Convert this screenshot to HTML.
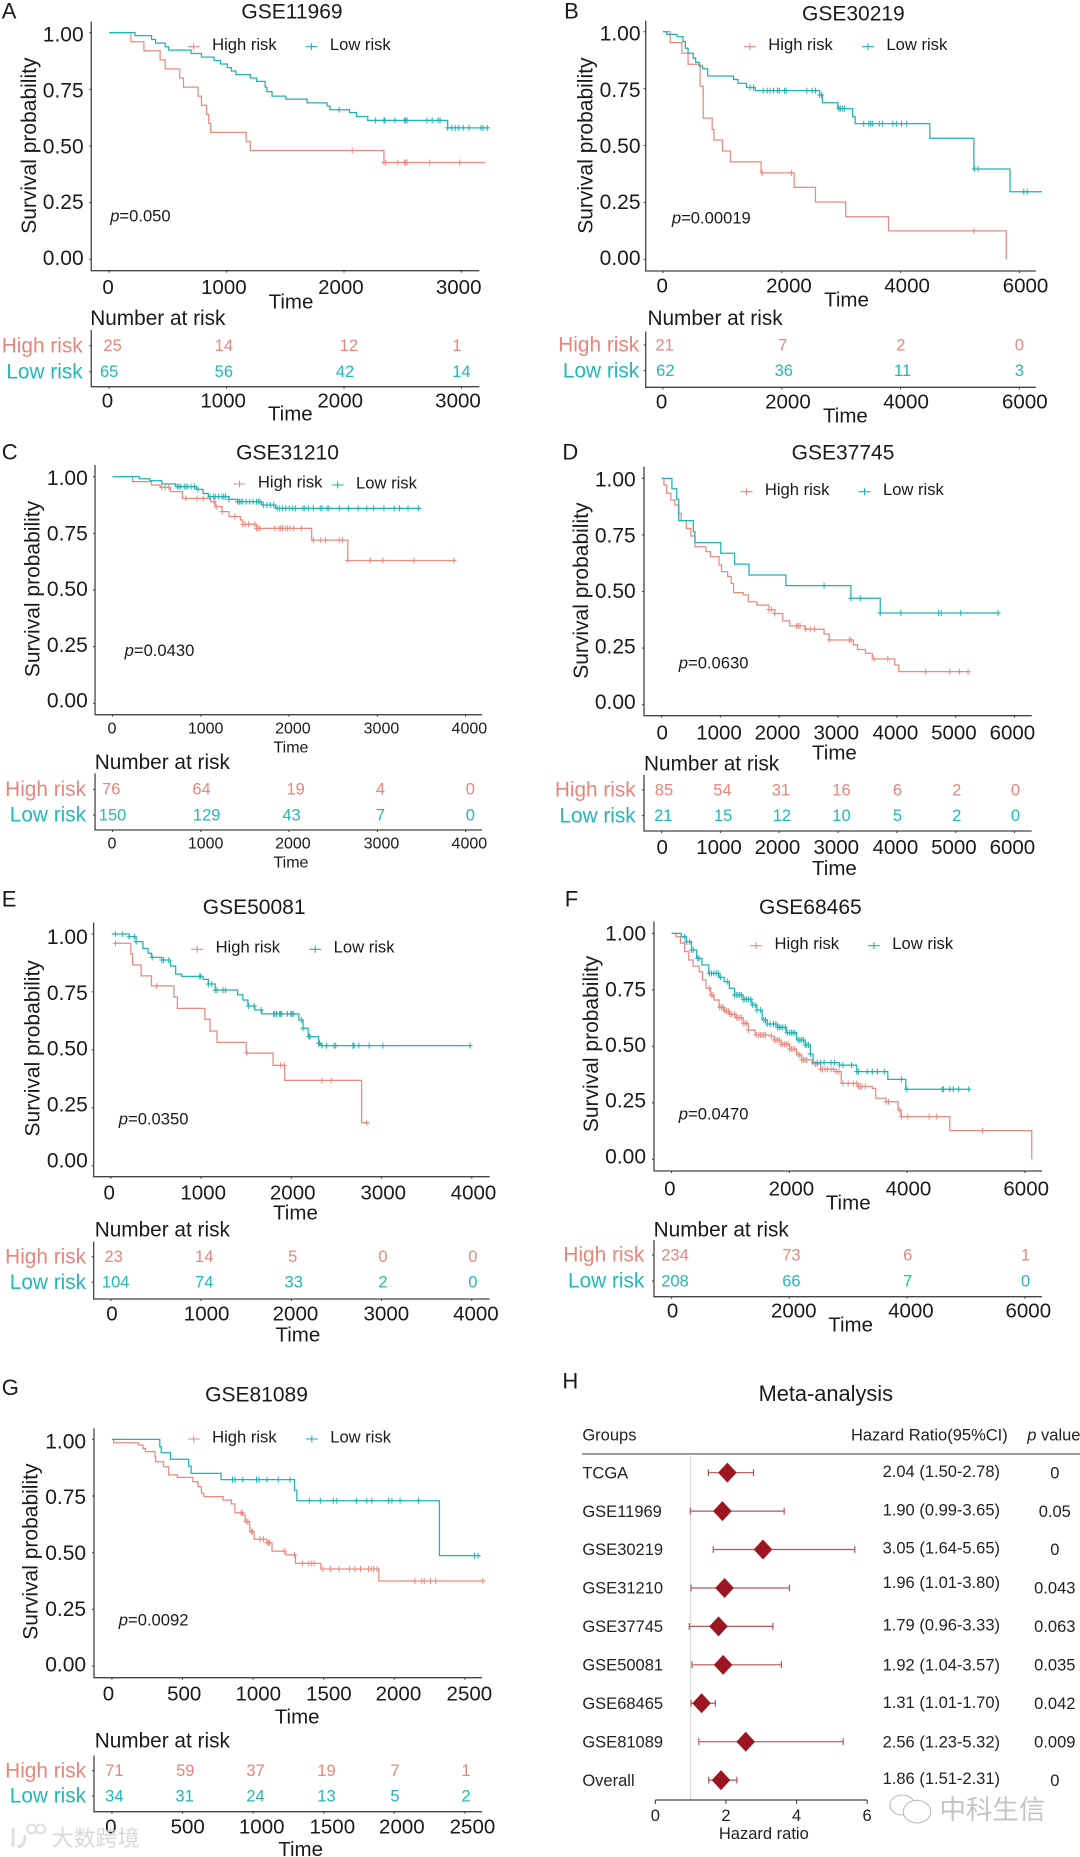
<!DOCTYPE html>
<html lang="en">
<head>
<meta charset="utf-8">
<title>Survival curves and meta-analysis</title>
<style>
html,body{margin:0;padding:0;background:#fff;}
#figure{display:block;width:1080px;height:1857px;font-family:"Liberation Sans","Noto Sans CJK SC",sans-serif;}
</style>
</head>
<body>
<svg id="figure" xmlns="http://www.w3.org/2000/svg" width="1080" height="1857" viewBox="0 0 1080 1857"></svg>
<script>
/* ---------- Panel A: GSE11969 ---------- */
const gse11969Ticks = [0,1000,2000,3000];
const gse11969HighTime = [0,185,296,434,478,601,633,757,786,830,848,865,1167,1202,2340,3200];
const gse11969HighSurv = [1,.96,.92,.88,.84,.80,.76,.72,.68,.64,.60,.56,.52,.48,.427,.427];
const gse11969HighCensor = [2070,2340,2355,2458,2516,2525,2537,2730,2985];
const gse11969LowTime = [0,220,361,396,478,507,698,786,894,947,1006,1041,1079,1202,1255,1328,1343,1387,1504,1686,1856,1880,2047,2106,2202,2883,3235];
const gse11969LowSurv = [1,.987,.97,.954,.938,.923,.908,.892,.877,.862,.846,.831,.815,.80,.785,.76,.74,.72,.707,.69,.677,.66,.647,.63,.613,.58,.58];
const gse11969LowCensor = [1959,2267,2340,2349,2434,2516,2525,2537,2707,2751,2801,2818,2883,2918,2947,2977,3015,3065,3167,3185,3220];
const gse11969RiskHigh = [25,14,12,1];
const gse11969RiskLow = [65,56,42,14];

/* ---------- Panel B: GSE30219 ---------- */
const gse30219Ticks = [0,2000,4000,6000];
const gse30219HighTime = [0,122,319,423,626,678,829,858,1003,1136,1652,2209,2568,3078,3797,5780];
const gse30219HighSurv = [1,.952,.905,.857,.76,.62,.571,.524,.476,.428,.38,.316,.252,.187,.125,0];
const gse30219HighCensor = [1670,2162,5235];
const gse30219LowTime = [0,64,238,336,377,423,510,551,609,667,754,1188,1264,1409,1554,2638,2684,2945,3194,3235,4493,5235,5843,6383];
const gse30219LowSurv = [1,.988,.978,.956,.927,.905,.883,.865,.85,.837,.805,.79,.773,.755,.741,.722,.688,.662,.627,.596,.532,.397,.297,.297];
const gse30219LowCensor = [1467,1525,1687,1757,1803,1861,1930,1959,2046,2075,2423,2510,2568,2638,2672,2962,2986,3020,3055,3380,3467,3496,3525,3641,3699,3872,3930,4017,4104,5246,5304,6075,6133];
const gse30219RiskHigh = [21,7,2,0];
const gse30219RiskLow = [62,36,11,3];

/* ---------- Panel C: GSE31210 ---------- */
const gse31210Ticks = [0,1000,2000,3000,4000];
const gse31210HighTime = [0,226,441,539,656,792,1112,1163,1241,1319,1448,1475,1631,2256,2666,3895];
const gse31210HighSurv = [1,.978,.963,.953,.934,.904,.89,.868,.846,.824,.809,.79,.772,.72,.63,.63];
const gse31210HighCensor = [558,597,636,831,957,1027,1151,1175,1241,1385,1475,1502,1541,1612,1631,1651,1670,1838,1885,1905,1924,1955,1982,2010,2049,2139,2275,2361,2412,2568,2607,2666,2920,3063,3415,3867];
const gse31210LowTime = [0,304,421,558,714,948,1026,1085,1319,1417,1690,1846,3493];
const gse31210LowSurv = [1,.991,.982,.968,.956,.944,.926,.912,.9,.89,.875,.86,.86];
const gse31210LowCensor = [734,753,773,812,831,851,890,929,968,1104,1143,1163,1202,1241,1260,1280,1319,1417,1436,1456,1475,1514,1553,1592,1631,1651,1670,1709,1748,1787,1826,1865,1893,1924,1963,2002,2041,2072,2158,2178,2217,2275,2353,2373,2431,2451,2568,2673,2782,2880,2958,3075,3192,3251,3348,3465];
const gse31210RiskHigh = [76,64,19,4,0];
const gse31210RiskLow = [150,129,43,7,0];

/* ---------- Panel D: GSE37745 ---------- */
const gse37745Ticks = [0,1000,2000,3000,4000,5000,6000];
const gse37745HighTime = [0,41,88,158,228,287,334,422,498,568,755,831,978,1019,1124,1183,1224,1388,1475,1622,1827,1926,2061,2178,2441,2763,2851,3261,3331,3466,3583,3964,4034,5240];
const gse37745HighSurv = [1,.97,.934,.904,.882,.845,.813,.779,.745,.698,.676,.654,.617,.588,.566,.536,.495,.485,.455,.44,.42,.403,.37,.348,.333,.312,.286,.264,.244,.227,.202,.175,.146,.146];
const gse37745HighCensor = [1827,1868,1926,2295,2324,2354,2453,2529,2600,2851,3191,3220,3612,3847,4491,4900,5064,5211];
const gse37745LowTime = [0,176,258,293,539,568,1007,1241,1487,2114,3220,3718,5750];
const gse37745LowSurv = [1,.954,.907,.813,.764,.716,.669,.621,.573,.526,.47,.405,.405];
const gse37745LowCensor = [2763,3220,3378,3718,4069,4707,4754,5088,5720];
const gse37745RiskHigh = [85,54,31,16,6,2,0];
const gse37745RiskLow = [21,15,12,10,5,2,0];

/* ---------- Panel E: GSE50081 ---------- */
const gse50081Ticks = [0,1000,2000,3000,4000];
const gse50081HighTime = [40,221,240,336,450,698,737,1042,1099,1176,1500,1798,1927,2779,2863];
const gse50081HighSurv = [.96,.914,.866,.819,.776,.728,.679,.632,.581,.532,.486,.433,.368,.186,.186];
const gse50081HighCensor = [50,508,1508,1882,1920,2340,2443,2836];
const gse50081LowTime = [10,202,279,355,412,450,565,660,718,786,1023,1080,1156,1405,1462,1519,1595,1672,2084,2130,2187,2302,2328,3992];
const gse50081LowSurv = [1,.988,.967,.938,.917,.899,.888,.862,.827,.817,.804,.784,.758,.738,.715,.689,.672,.655,.629,.593,.557,.528,.518,.518];
const gse50081LowCensor = [50,126,202,260,279,458,565,584,641,985,996,1080,1118,1156,1176,1244,1271,1527,1588,1664,1805,1817,1836,1870,1882,1893,1958,1996,2008,2027,2111,2130,2195,2206,2302,2313,2340,2389,2473,2492,2683,2695,2748,2863,3015,3981];
const gse50081RiskHigh = [23,14,5,0,0];
const gse50081RiskLow = [104,74,33,2,0];

/* ---------- Panel F: GSE68465 ---------- */
const gse68465Ticks = [0,2000,4000,6000];
const gse68465HighTime = [0,76,152,222,292,368,468,526,585,661,719,807,895,982,1099,1216,1304,1421,1655,1743,1860,2006,2123,2211,2386,2532,2795,2883,3175,3409,3468,3643,3848,3895,4725,6117];
const gse68465HighSurv = [1,.985,.956,.919,.882,.855,.83,.794,.757,.727,.705,.673,.656,.642,.627,.602,.572,.55,.546,.528,.509,.488,.462,.44,.422,.398,.388,.336,.322,.314,.27,.255,.218,.189,.127,0];
const gse68465HighCensor = [643,673,702,819,848,877,906,936,965,994,1023,1070,1099,1129,1158,1187,1216,1246,1275,1304,1439,1480,1509,1538,1567,1596,1696,1743,1772,1801,1830,1860,1889,1918,1947,1977,2006,2035,2064,2094,2152,2181,2211,2240,2269,2298,2444,2474,2532,2561,2608,2649,2708,2749,2795,2842,2912,3000,3088,3146,3175,3205,3234,3292,3643,3684,3877,3906,4012,4374,4503,5281];
const gse68465LowTime = [0,164,251,339,427,515,632,807,895,982,1070,1216,1363,1450,1538,1626,1801,1947,2123,2269,2357,2404,2854,3146,3673,3977,5076];
const gse68465LowSurv = [1,.985,.963,.926,.889,.86,.823,.805,.786,.757,.727,.708,.683,.661,.617,.599,.584,.56,.528,.506,.466,.428,.417,.388,.354,.31,.31];
const gse68465LowCensor = [222,251,310,339,368,444,468,643,678,719,760,795,830,953,1070,1099,1129,1158,1187,1216,1246,1275,1304,1345,1380,1421,1450,1509,1567,1596,1626,1673,1731,1772,1801,1830,1860,1889,1930,1965,2006,2035,2064,2094,2152,2181,2211,2240,2269,2298,2327,2357,2474,2532,2591,2708,2766,2854,2912,3058,3146,3175,3322,3409,3497,3614,3906,3994,4596,4620,4725,4784,4871,5047];
const gse68465RiskHigh = [234,73,6,1];
const gse68465RiskLow = [208,66,7,0];

/* ---------- Panel G: GSE81089 ---------- */
const gse81089Ticks = [0,500,1000,1500,2000,2500];
const gse81089HighTime = [0,12,188,220,237,305,310,366,402,463,573,610,634,651,788,846,871,927,944,976,1007,1098,1134,1232,1300,1480,1890,2641];
const gse81089HighSurv = [1,.985,.975,.96,.946,.924,.901,.879,.843,.832,.813,.791,.762,.747,.732,.715,.676,.666,.637,.593,.559,.544,.507,.49,.453,.428,.375,.375];
const gse81089HighCensor = [915,922,951,963,988,995,1049,1073,1098,1110,1117,1220,1293,1349,1395,1415,1432,1495,1549,1610,1683,1720,1761,1817,1837,1854,1878,2146,2195,2212,2256,2293,2627];
const gse81089LowTime = [0,339,349,415,544,561,773,1293,1310,2320,2610];
const gse81089LowSurv = [1,.968,.941,.912,.882,.85,.822,.776,.729,.487,.487];
const gse81089LowCensor = [854,871,927,1024,1041,1098,1178,1261,1398,1476,1568,1593,1732,1805,1841,1959,1983,2041,2171,2568,2593];
const gse81089RiskHigh = [71,59,37,19,7,1];
const gse81089RiskLow = [34,31,24,13,5,2];

/* ---------- Panel H: forest plot ---------- */
const forestGroups = ["TCGA","GSE11969","GSE30219","GSE31210","GSE37745","GSE50081","GSE68465","GSE81089","Overall"];
const forestHR = [2.04,1.90,3.05,1.96,1.79,1.92,1.31,2.56,1.86];
const forestLower = [1.50,0.99,1.64,1.01,0.96,1.04,1.01,1.23,1.51];
const forestUpper = [2.78,3.65,5.65,3.80,3.33,3.57,1.70,5.32,2.31];
const forestP = ["0","0.05","0","0.043","0.063","0.035","0.042","0.009","0"];
const forestTicks = [0,2,4,6];

const survivalTicks = [0,0.25,0.5,0.75,1];

/* ---------- Layout (measured units: 2.904 per px across, 3 per px down) ---------- */
const KX = 2.904, KY = 3;
const HIGH = "#E98A81", LOW = "#1FB3B3", HIGHTXT = "#E8857C", LOWTXT = "#22B8B8", INK = "#1a1a1a", AXIS = "#444";
const svg = document.getElementById('figure');
const NS = "http://www.w3.org/2000/svg";
const zx = z => z / KX;
const zy = z => z / KY;

function make(tag, attrs, parent){
  const el = document.createElementNS(NS, tag);
  for (const k in attrs) el.setAttribute(k, attrs[k]);
  parent.appendChild(el);
  return el;
}
function named(el, name, interactable){
  
  
  return el;
}
function label(parent, x, y, str, size, anchor, fill, name){
  const el = make('text', {x:x, y:y, 'font-size':size, 'text-anchor':anchor||'start', fill:fill||INK}, parent);
  el.textContent = str;
  return named(el, name);
}
function survivalAt(times, surv, t){
  let s = surv[0];
  for (let i = 0; i < times.length; i++) if (times[i] <= t) s = surv[i];
  return s;
}

function drawPanel(p){
  const g = named(make('g', {transform:'translate('+p.ox+','+p.oy+')'}, svg), 'panel-'+p.title.toLowerCase());
  const xScale = t => (p.x0 + t * p.xs) / KX;
  const yScale = v => (p.y0 - v * (p.y0 - p.y1)) / KY;
  const tickFs = p.tickFs || 20.5, timeFs = p.timeFs || 20.5;

  label(g, zx(p.letter[0]), zy(p.letter[1]), p.letter[2], 22, 'start', INK, 'panel-letter');
  label(g, zx(p.titleX), zy(p.titleY), p.title, 21, 'middle', INK, 'chart-title');

  /* main axes */
  named(make('path', {d:'M'+zx(p.ax)+' '+zy(p.top)+'V'+zy(p.bottom)+'H'+zx(p.right), fill:'none', stroke:AXIS, 'stroke-width':1.3}, g), 'survival-axes');
  survivalTicks.forEach(v => {
    named(make('line', {x1:zx(p.ax)-2, x2:zx(p.ax), y1:yScale(v), y2:yScale(v), stroke:AXIS, 'stroke-width':1.1}, g), 'y-tick');
    const by = p.yLab[0] + v * (p.yLab[1] - p.yLab[0]);
    label(g, zx(p.yLabR), zy(by), v.toFixed(2), 21, 'end', INK, 'y-tick-label');
  });
  p.ticks.forEach((t, i) => {
    named(make('line', {x1:xScale(t), x2:xScale(t), y1:zy(p.bottom), y2:zy(p.bottom)+2, stroke:AXIS, 'stroke-width':1.1}, g), 'x-tick');
    label(g, xScale(t)+zx(p.tickDx[i]), zy(p.tickY), String(t), tickFs, 'middle', INK, 'x-tick-label');
  });
  label(g, zx(p.timeX), zy(p.timeY), 'Time', timeFs, 'middle', INK, 'x-axis-title');

  /* y axis title */
  const yt = label(g, 0, 0, 'Survival probability', 21, 'middle', INK, 'y-axis-title');
  yt.setAttribute('transform', 'translate('+zx(p.yTitleX)+','+zy(p.yTitleY)+') rotate(-90)');

  /* series */
  [['high', p.highT, p.highS, p.highC, HIGH], ['low', p.lowT, p.lowS, p.lowC, LOW]].forEach(s => {
    let d = 'M' + xScale(s[1][0]).toFixed(2) + ' ' + yScale(s[2][0]).toFixed(2);
    for (let i = 1; i < s[1].length; i++) {
      d += 'H' + xScale(s[1][i]).toFixed(2) + 'V' + yScale(s[2][i]).toFixed(2);
    }
    named(make('path', {d:d, fill:'none', stroke:s[4], 'stroke-width':1.25}, g), s[0]+'-risk-curve');
    s[3].forEach(t => {
      const cx = xScale(t), cy = yScale(survivalAt(s[1], s[2], t));
      named(make('path', {d:'M'+(cx-2.6)+' '+cy+'H'+(cx+2.6)+'M'+cx+' '+(cy-3)+'V'+(cy+3), fill:'none', stroke:s[4], 'stroke-width':1}, g), s[0]+'-censor-mark');
    });
  });

  /* legend */
  [[p.leg[0], 'High risk', HIGH], [p.leg[3], 'Low risk', LOW]].forEach((e, i) => {
    const my = zy(p.leg[1] + (i ? p.leg[4] : 0));
    const m0 = zx(e[0]), m1 = zx(e[0]+35), mm = (m0+m1)/2;
    named(make('path', {d:'M'+m0+' '+my+'H'+m1+'M'+mm+' '+(my-3.4)+'V'+(my+3.4), fill:'none', stroke:e[2], 'stroke-width':1.1}, g), 'legend-key-'+(i?'low':'high'));
    label(g, zx(e[0]+71), my+3.4, e[1], 16.6, 'start', INK, 'legend-entry-'+(i?'low':'high'));
  });

  /* p value */
  const pt = make('text', {x:zx(p.pX), y:zy(p.pY), 'font-size':16.6, fill:INK}, g);
  named(pt, 'p-value-label');
  const pi = make('tspan', {'font-style':'italic'}, pt); pi.textContent = 'p';
  const pr = make('tspan', {}, pt); pr.textContent = '=' + p.pVal;

  /* risk table */
  label(g, zx(p.numX), zy(p.numY), 'Number at risk', 20.8, 'start', INK, 'risk-table-title');
  named(make('path', {d:'M'+zx(p.ax)+' '+zy(p.tTop)+'V'+zy(p.tBottom)+'H'+zx(p.right), fill:'none', stroke:AXIS, 'stroke-width':1.3}, g), 'risk-table-axes');
  [[p.rowH,'High risk',HIGHTXT,p.riskH,p.dxH,'high'],[p.rowL,'Low risk',LOWTXT,p.riskL,p.dxL,'low']].forEach(r => {
    named(make('line', {x1:zx(p.ax)-2, x2:zx(p.ax), y1:zy(r[0]), y2:zy(r[0]), stroke:AXIS, 'stroke-width':1.1}, g), 'risk-row-tick');
    label(g, zx(p.rowR), zy(r[0]+20), r[1], 20.8, 'end', r[2], 'risk-row-label-'+r[5]);
    r[3].forEach((n, i) => {
      label(g, xScale(p.ticks[i])+zx(r[4][i]), zy(r[0]+16), String(n), 16.5, 'middle', r[2], 'risk-count-'+r[5]);
    });
  });
  p.ticks.forEach((t, i) => {
    named(make('line', {x1:xScale(t), x2:xScale(t), y1:zy(p.tBottom), y2:zy(p.tBottom)+2, stroke:AXIS, 'stroke-width':1.1}, g), 'risk-x-tick');
    label(g, xScale(t)+zx(p.tDx[i]), zy(p.tTickY), String(t), tickFs, 'middle', INK, 'risk-x-tick-label');
  });
  label(g, zx(p.tTimeX), zy(p.tTimeY), 'Time', timeFs, 'middle', INK, 'risk-x-axis-title');
}

drawPanel({ox:0,oy:0,letter:[5,55,'A'],title:'GSE11969',titleX:848,titleY:55,ax:265,top:65,bottom:812,right:1392,x0:317,xs:.341,y1:98,y0:778,
  ticks:gse11969Ticks,tickDx:[-3,-8,-9,-8],tickY:882,timeX:845,timeY:925,yLab:[795,125],yLabR:243,yTitleX:104,yTitleY:437,
  leg:[545,140,0,887,0],pX:320,pY:665,pVal:'0.050',numX:262,numY:975,tTop:990,tBottom:1160,rowH:1037,rowL:1115,rowR:240,
  dxH:[10,-8,14,-13],dxL:[0,-8,3,0],tDx:[-5,-10,-11,-10],tTickY:1222,tTimeX:843,tTimeY:1262,
  highT:gse11969HighTime,highS:gse11969HighSurv,highC:gse11969HighCensor,lowT:gse11969LowTime,lowS:gse11969LowSurv,lowC:gse11969LowCensor,riskH:gse11969RiskHigh,riskL:gse11969RiskLow});

drawPanel({ox:540,oy:0,letter:[70,55,'B'],title:'GSE30219',titleX:910,titleY:62,ax:307,top:62,bottom:813,right:1440,x0:357,xs:.1725,y1:95,y0:778,
  ticks:gse30219Ticks,tickDx:[-2,21,19,18],tickY:878,timeX:890,timeY:920,yLab:[795,122],yLabR:292,yTitleX:152,yTitleY:437,
  leg:[592,140,0,935,0],pX:383,pY:670,pVal:'0.00019',numX:312,numY:975,tTop:995,tBottom:1162,rowH:1035,rowL:1112,rowR:288,
  dxH:[5,3,1,0],dxL:[7,6,6,0],tDx:[-4,18,16,16],tTickY:1225,tTimeX:887,tTimeY:1268,
  highT:gse30219HighTime,highS:gse30219HighSurv,highC:gse30219HighCensor,lowT:gse30219LowTime,lowS:gse30219LowSurv,lowC:gse30219LowCensor,riskH:gse30219RiskHigh,riskL:gse30219RiskLow});

drawPanel({ox:0,oy:430,letter:[5,88,'C'],title:'GSE31210',titleX:835,titleY:88,ax:276,top:105,bottom:854,right:1400,x0:327,xs:.25625,y1:140,y0:820,
  ticks:gse31210Ticks,tickDx:[-2,14,11,12,11],tickY:910,timeX:845,timeY:967,tickFs:16,timeFs:16,yLab:[832,165],yLabR:255,yTitleX:114,yTitleY:477,
  leg:[678,162,0,963,3],pX:362,pY:678,pVal:'0.0430',numX:275,numY:1017,tTop:1030,tBottom:1200,rowH:1078,rowL:1155,rowR:250,
  dxH:[-4,2,19,9,14],dxL:[0,17,7,9,14],tDx:[-2,14,11,12,11],tTickY:1256,tTimeX:845,tTimeY:1312,
  highT:gse31210HighTime,highS:gse31210HighSurv,highC:gse31210HighCensor,lowT:gse31210LowTime,lowS:gse31210LowSurv,lowC:gse31210LowCensor,riskH:gse31210RiskHigh,riskL:gse31210RiskLow});

drawPanel({ox:540,oy:430,letter:[65,88,'D'],title:'GSE37745',titleX:880,titleY:88,ax:302,top:110,bottom:857,right:1428,x0:353,xs:.1708,y1:145,y0:824,
  ticks:gse37745Ticks,tickDx:[2,-4,-5,-5,-4,-5,-6],tickY:928,timeX:855,timeY:988,yLab:[837,170],yLabR:278,yTitleX:140,yTitleY:482,
  leg:[582,185,0,925,0],pX:403,pY:715,pVal:'0.0630',numX:302,numY:1022,tTop:1035,tBottom:1203,rowH:1080,rowL:1157,rowR:278,
  dxH:[7,6,5,10,2,3,3],dxL:[5,8,8,10,2,3,3],tDx:[2,-4,-5,-5,-4,-5,-6],tTickY:1272,tTimeX:855,tTimeY:1335,
  highT:gse37745HighTime,highS:gse37745HighSurv,highC:gse37745HighCensor,lowT:gse37745LowTime,lowS:gse37745LowSurv,lowC:gse37745LowCensor,riskH:gse37745RiskHigh,riskL:gse37745RiskLow});

drawPanel({ox:0,oy:880,letter:[5,80,'E'],title:'GSE50081',titleX:738,titleY:102,ax:272,top:128,bottom:890,right:1422,x0:322,xs:.262,y1:162,y0:857,
  ticks:gse50081Ticks,tickDx:[-5,6,4,5,5],tickY:958,timeX:858,timeY:1018,yLab:[862,192],yLabR:255,yTitleX:114,yTitleY:505,
  leg:[555,208,0,898,0],pX:345,pY:733,pVal:'0.0350',numX:275,numY:1070,tTop:1085,tBottom:1257,rowH:1130,rowL:1207,rowR:250,
  dxH:[8,9,4,4,3],dxL:[14,9,7,4,3],tDx:[3,16,12,14,12],tTickY:1322,tTimeX:865,tTimeY:1385,
  highT:gse50081HighTime,highS:gse50081HighSurv,highC:gse50081HighCensor,lowT:gse50081LowTime,lowS:gse50081LowSurv,lowC:gse50081LowCensor,riskH:gse50081RiskHigh,riskL:gse50081RiskLow});

drawPanel({ox:540,oy:880,letter:[72,80,'F'],title:'GSE68465',titleX:785,titleY:102,ax:331,top:125,bottom:873,right:1458,x0:382,xs:.171,y1:160,y0:838,
  ticks:gse68465Ticks,tickDx:[-5,6,4,4],tickY:947,timeX:895,timeY:988,yLab:[850,182],yLabR:308,yTitleX:169,yTitleY:492,
  leg:[610,197,0,952,0],pX:403,pY:718,pVal:'0.0470',numX:330,numY:1070,tTop:1080,tBottom:1250,rowH:1125,rowL:1203,rowR:303,
  dxH:[10,6,2,2],dxL:[10,6,2,2],tDx:[3,13,11,10],tTickY:1313,tTimeX:902,tTimeY:1355,
  highT:gse68465HighTime,highS:gse68465HighSurv,highC:gse68465HighCensor,lowT:gse68465LowTime,lowS:gse68465LowSurv,lowC:gse68465LowCensor,riskH:gse68465RiskHigh,riskL:gse68465RiskLow});

drawPanel({ox:0,oy:1350,letter:[5,135,'G'],title:'GSE81089',titleX:745,titleY:155,ax:273,top:235,bottom:983,right:1400,x0:325,xs:.41,y1:268,y0:948,
  ticks:gse81089Ticks,tickDx:[-10,5,15,15,12,13],tickY:1052,timeX:863,timeY:1120,yLab:[965,295],yLabR:250,yTitleX:109,yTitleY:605,
  leg:[545,267,0,888,0],pX:345,pY:827,pVal:'0.0092',numX:275,numY:1192,tTop:1217,tBottom:1385,rowH:1262,rowL:1338,rowR:250,
  dxH:[7,8,7,8,2,3],dxL:[7,6,7,8,2,3],tDx:[-3,15,25,25,22,22],tTickY:1450,tTimeX:873,tTimeY:1518,
  highT:gse81089HighTime,highS:gse81089HighSurv,highC:gse81089HighCensor,lowT:gse81089LowTime,lowS:gse81089LowSurv,lowC:gse81089LowCensor,riskH:gse81089RiskHigh,riskL:gse81089RiskLow});

/* ---------- Forest plot ---------- */
(function(){
  const g = named(make('g', {transform:'translate(540,1350)'}, svg), 'panel-meta-analysis');
  const hrX = v => (335 + v * 102.5) / KX;
  const rowY = i => (368 + i * 115.3) / KY;
  const hrNudge = [-4,-4,-5,-17,-5,0,-3,0,-5];
  const F = 16.5;

  label(g, zx(65), zy(115), 'H', 22, 'start', INK, 'panel-letter');
  label(g, zx(830), zy(153), 'Meta-analysis', 21.8, 'middle', INK, 'forest-title');
  label(g, zx(123), zy(272), 'Groups', F, 'start', '#222', 'forest-header-groups');
  label(g, zx(903), zy(272), 'Hazard Ratio(95%CI)', F, 'start', '#222', 'forest-header-hr');
  const pv = make('text', {x:zx(1415), y:zy(272), 'font-size':F, fill:'#222'}, g);
  named(pv, 'forest-header-p');
  const i1 = make('tspan', {'font-style':'italic'}, pv); i1.textContent = 'p';
  const i2 = make('tspan', {}, pv); i2.textContent = ' value';

  named(make('line', {x1:zx(122), x2:zx(1568), y1:zy(312), y2:zy(312), stroke:'#777', 'stroke-width':1.5}, g), 'forest-header-rule');
  named(make('line', {x1:hrX(1), x2:hrX(1), y1:zy(312), y2:zy(1350), stroke:'#d4d4d4', 'stroke-width':1}, g), 'forest-reference-line');

  forestGroups.forEach((name, i) => {
    const y = rowY(i);
    label(g, zx(123), y+zy(17), name, F, 'start', '#222', 'forest-group-label');
    const ci = make('path', {d:'M'+hrX(forestLower[i])+' '+y+'H'+hrX(forestUpper[i])+'M'+hrX(forestLower[i])+' '+(y-3.4)+'V'+(y+3.4)+'M'+hrX(forestUpper[i])+' '+(y-3.4)+'V'+(y+3.4), fill:'none', stroke:'#B4565C', 'stroke-width':1.2}, g);
    named(ci, 'forest-ci');
    const cx = hrX(forestHR[i]);
    const dm = make('polygon', {points:(cx-9.3)+','+y+' '+cx+','+(y-10)+' '+(cx+9.3)+','+y+' '+cx+','+(y+10), fill:'#9B1620'}, g);
    named(dm, 'forest-diamond');
    label(g, zx(995), y+zy(17+hrNudge[i]), forestHR[i].toFixed(2)+' ('+forestLower[i].toFixed(2)+'-'+forestUpper[i].toFixed(2)+')', F, 'start', '#222', 'forest-hr-text');
    label(g, zx(1495), y+zy(17), forestP[i], F, 'middle', '#222', 'forest-p-text');
  });

  named(make('line', {x1:hrX(forestTicks[0]), x2:hrX(forestTicks[forestTicks.length-1]), y1:zy(1350), y2:zy(1350), stroke:'#444', 'stroke-width':1.2}, g), 'forest-x-axis');
  forestTicks.forEach(t => {
    named(make('line', {x1:hrX(t), x2:hrX(t), y1:zy(1350), y2:zy(1362), stroke:'#444', 'stroke-width':1.1}, g), 'forest-x-tick');
    label(g, hrX(t), zy(1413), String(t), F, 'middle', '#222', 'forest-x-tick-label');
  });
  label(g, zx(650), zy(1467), 'Hazard ratio', F, 'middle', '#222', 'forest-x-axis-title');

  /* watermark right */
  const wm = named(make('g', {}, g), 'wechat-watermark');
  make('ellipse', {cx:zx(1052), cy:zy(1365), rx:zx(36), ry:zy(30), fill:'none', stroke:'#bbb', 'stroke-width':1.1}, wm);
  make('ellipse', {cx:zx(1095), cy:zy(1385), rx:zx(40), ry:zy(34), fill:'#fff', stroke:'#bbb', 'stroke-width':1.1}, wm);
  label(g, zx(1160), zy(1407), '中科生信', 26.5, 'start', '#c4c4c4', 'watermark-text');
})();

/* ---------- Bottom-left watermark ---------- */
(function(){
  const g = named(make('g', {transform:'translate(0,1350)', opacity:.9}, svg), 'source-watermark');
  make('path', {d:'M'+zx(38)+' '+zy(1435)+'V'+zy(1490)+'M'+zx(52)+' '+zy(1490)+'C'+zx(62)+' '+zy(1490)+' '+zx(75)+' '+zy(1480)+' '+zx(72)+' '+zy(1455), fill:'none', stroke:'#dcdcdc', 'stroke-width':3}, g);
  make('circle', {cx:zx(92), cy:zy(1437), r:zx(13), fill:'none', stroke:'#dcdcdc', 'stroke-width':2}, g);
  make('circle', {cx:zx(118), cy:zy(1437), r:zx(13), fill:'none', stroke:'#dcdcdc', 'stroke-width':2}, g);
  label(g, zx(150), zy(1488), '大数跨境', 22, 'start', '#d4d4d4', 'watermark-text');
})();
</script>
</body>
</html>
